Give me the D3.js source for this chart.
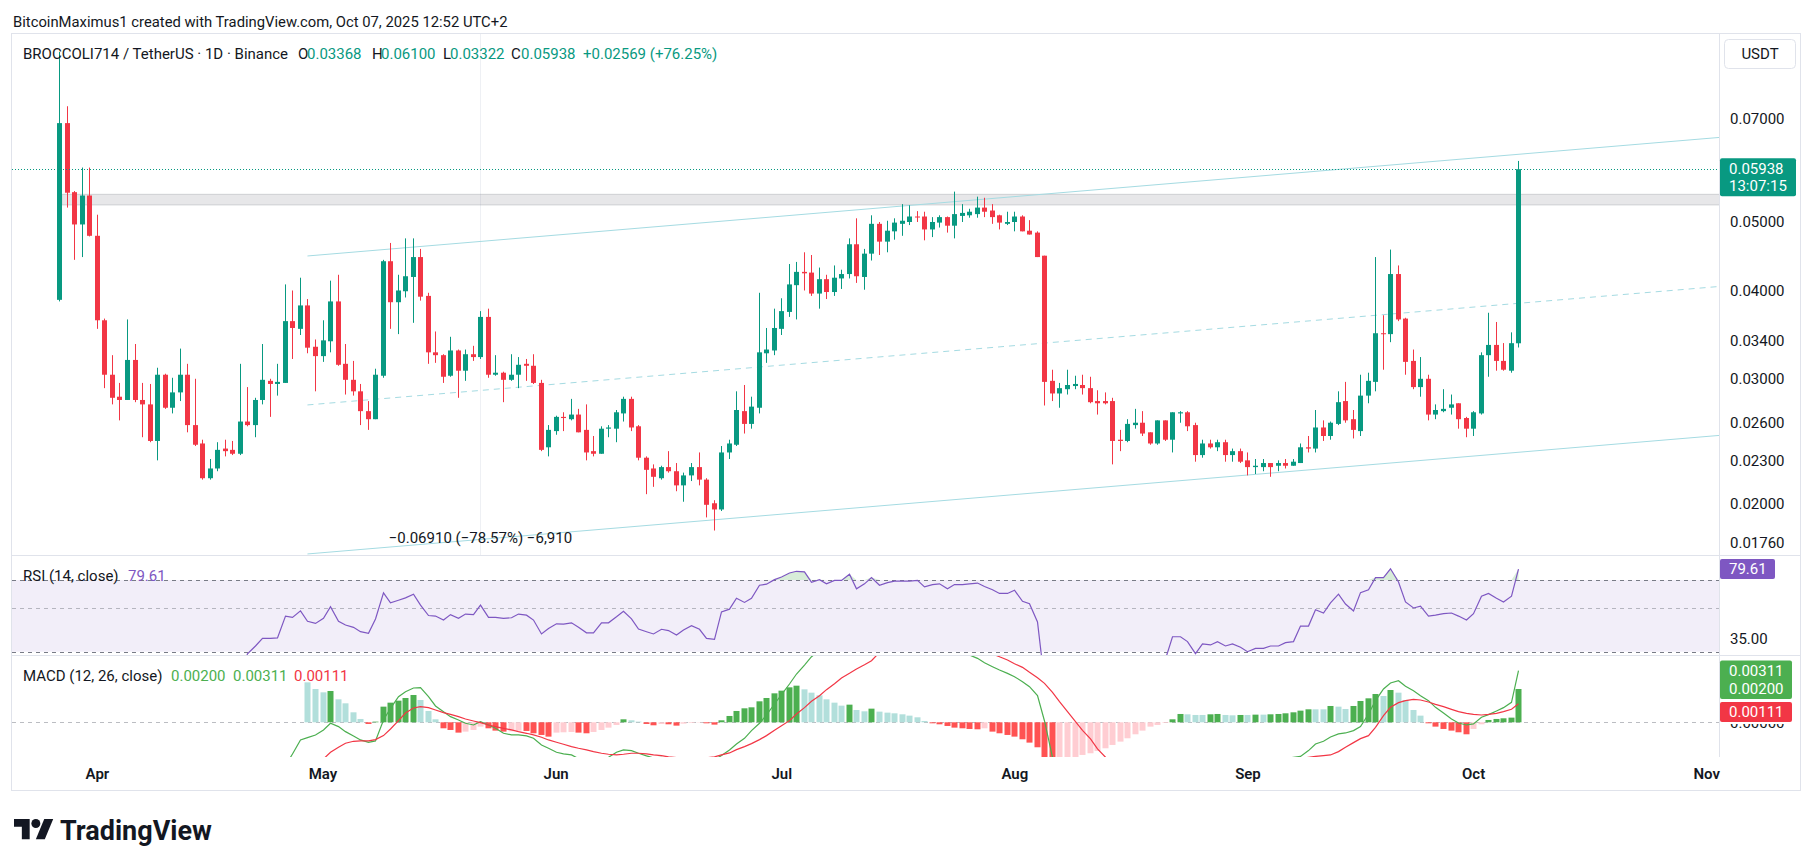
<!DOCTYPE html>
<meta charset="utf-8">
<script src="https://d3js.org/d3.v7.min.js"></script>
<style>
  body { margin: 0; background: #ffffff; }
  svg text { font-family: Roboto, "Noto Sans", "Liberation Sans", sans-serif; fill: #131722; }
</style>
<body></body>
<script>

// ---- values: BROCCOLI714 / USDT, 1D, Binance ----
var firstDay = Date.UTC(2025, 2, 27);   // first candle (27 Mar 2025)
var dayMs = 864e5;

var opens = [
  0.0388,0.0690,0.0551,0.0496,0.0545,0.0478,0.0363,0.0304,0.0283,0.0280,
  0.0319,0.0280,0.0276,0.0245,0.0304,0.0273,0.0287,0.0304,0.0258,0.0243,
  0.0217,0.0224,0.0239,0.0238,0.0235,0.0261,0.0258,0.0280,0.0298,0.0295,
  0.0296,0.0362,0.0353,0.0381,0.0333,0.0323,0.0339,0.0386,0.0315,0.0299,
  0.0288,0.0270,0.0263,0.0303,0.0440,0.0385,0.0399,0.0418,0.0446,0.0393,
  0.0327,0.0324,0.0303,0.0329,0.0308,0.0325,0.0322,0.0367,0.0304,0.0306,
  0.0299,0.0304,0.0315,0.0313,0.0296,0.0240,0.0253,0.0265,0.0263,0.0267,
  0.0254,0.0237,0.0235,0.0255,0.0255,0.0268,0.0281,0.0257,0.0232,0.0224,
  0.0217,0.0225,0.0222,0.0212,0.0219,0.0225,0.0216,0.0200,0.0196,0.0236,
  0.0242,0.0270,0.0259,0.0273,0.0326,0.0329,0.0353,0.0373,0.0407,0.0425,
  0.0424,0.0396,0.0415,0.0398,0.0416,0.0422,0.0465,0.0418,0.0451,0.0497,
  0.0469,0.0485,0.0497,0.0500,0.0509,0.0509,0.0488,0.0499,0.0508,0.0494,
  0.0510,0.0511,0.0513,0.0524,0.0519,0.0511,0.0497,0.0500,0.0509,0.0486,
  0.0483,0.0448,0.0298,0.0286,0.0290,0.0293,0.0294,0.0291,0.0279,0.0279,
  0.0279,0.0246,0.0245,0.0258,0.0260,0.0252,0.0243,0.0262,0.0246,0.0268,
  0.0269,0.0258,0.0234,0.0243,0.0240,0.0244,0.0234,0.0237,0.0230,0.0225,
  0.0225,0.0228,0.0226,0.0228,0.0226,0.0228,0.0240,0.0239,0.0256,0.0249,
  0.0259,0.0279,0.0263,0.0253,0.0284,0.0297,0.0348,0.0347,0.0422,0.0365,
  0.0318,0.0292,0.0300,0.0267,0.0270,0.0273,0.0277,0.0264,0.0255,0.0268,
  0.0324,0.0335,0.0318,0.0308,0.03368];

var highs = [
  0.0870,0.0729,0.0553,0.0597,0.0597,0.0512,0.0365,0.0324,0.0296,0.0364,
  0.0336,0.0296,0.0295,0.0311,0.0305,0.0301,0.0331,0.0315,0.0300,0.0246,
  0.0231,0.0244,0.0246,0.0245,0.0315,0.0292,0.0282,0.0336,0.0300,0.0315,
  0.0408,0.0400,0.0417,0.0389,0.0341,0.0363,0.0413,0.0421,0.0336,0.0318,
  0.0295,0.0279,0.0310,0.0442,0.0467,0.0421,0.0474,0.0474,0.0458,0.0397,
  0.0350,0.0325,0.0344,0.0330,0.0330,0.0334,0.0374,0.0377,0.0324,0.0307,
  0.0325,0.0322,0.0320,0.0325,0.0299,0.0258,0.0266,0.0269,0.0281,0.0272,
  0.0276,0.0249,0.0257,0.0258,0.0271,0.0283,0.0283,0.0258,0.0233,0.0227,
  0.0226,0.0237,0.0228,0.0221,0.0228,0.0236,0.0217,0.0202,0.0241,0.0246,
  0.0288,0.0294,0.0283,0.0397,0.0354,0.0377,0.0390,0.0436,0.0439,0.0453,
  0.0449,0.0431,0.0421,0.0434,0.0428,0.0474,0.0506,0.0458,0.0511,0.0500,
  0.0502,0.0506,0.0530,0.0528,0.0518,0.0517,0.0508,0.0511,0.0509,0.0552,
  0.0530,0.0522,0.0543,0.0541,0.0530,0.0512,0.0517,0.0517,0.0511,0.0503,
  0.0485,0.0448,0.0309,0.0296,0.0309,0.0303,0.0304,0.0302,0.0289,0.0287,
  0.0282,0.0254,0.0263,0.0272,0.0270,0.0252,0.0262,0.0262,0.0269,0.0270,
  0.0270,0.0260,0.0246,0.0246,0.0246,0.0246,0.0239,0.0239,0.0236,0.0231,
  0.0231,0.0228,0.0230,0.0231,0.0231,0.0243,0.0249,0.0271,0.0262,0.0261,
  0.0288,0.0297,0.0271,0.0304,0.0306,0.0446,0.0369,0.0457,0.0434,0.0366,
  0.0330,0.0322,0.0304,0.0276,0.0290,0.0285,0.0277,0.0265,0.0270,0.0327,
  0.0372,0.0361,0.0337,0.0349,0.0610];

var lows = [
  0.0386,0.0524,0.0442,0.0446,0.0477,0.0353,0.0291,0.0276,0.0262,0.0280,
  0.0278,0.0248,0.0244,0.0230,0.0272,0.0268,0.0279,0.0252,0.0241,0.0216,
  0.0216,0.0222,0.0233,0.0234,0.0234,0.0257,0.0248,0.0276,0.0265,0.0284,
  0.0296,0.0320,0.0346,0.0326,0.0288,0.0317,0.0327,0.0313,0.0285,0.0284,
  0.0258,0.0254,0.0263,0.0301,0.0353,0.0347,0.0391,0.0360,0.0387,0.0315,
  0.0316,0.0296,0.0302,0.0282,0.0298,0.0318,0.0320,0.0301,0.0303,0.0278,
  0.0298,0.0291,0.0298,0.0295,0.0237,0.0233,0.0250,0.0253,0.0262,0.0252,
  0.0230,0.0233,0.0235,0.0248,0.0244,0.0261,0.0253,0.0230,0.0206,0.0211,
  0.0216,0.0221,0.0208,0.0201,0.0215,0.0212,0.0191,0.0183,0.0195,0.0231,
  0.0241,0.0251,0.0255,0.0268,0.0316,0.0324,0.0346,0.0367,0.0364,0.0400,
  0.0393,0.0377,0.0389,0.0393,0.0402,0.0416,0.0410,0.0401,0.0441,0.0449,
  0.0453,0.0472,0.0478,0.0495,0.0500,0.0471,0.0476,0.0491,0.0483,0.0474,
  0.0500,0.0507,0.0507,0.0508,0.0497,0.0488,0.0495,0.0485,0.0485,0.0480,
  0.0446,0.0275,0.0279,0.0273,0.0285,0.0290,0.0285,0.0277,0.0267,0.0276,
  0.0227,0.0237,0.0244,0.0255,0.0249,0.0242,0.0242,0.0245,0.0236,0.0260,
  0.0253,0.0229,0.0232,0.0239,0.0237,0.0229,0.0229,0.0228,0.0219,0.0220,
  0.0222,0.0218,0.0222,0.0224,0.0226,0.0228,0.0236,0.0236,0.0245,0.0246,
  0.0258,0.0260,0.0247,0.0249,0.0277,0.0288,0.0309,0.0338,0.0362,0.0304,
  0.0290,0.0283,0.0262,0.0263,0.0269,0.0267,0.0255,0.0248,0.0249,0.0267,
  0.0302,0.0308,0.0308,0.0306,0.03322];

var closes = [
  0.0690,0.0550,0.0496,0.0545,0.0478,0.0363,0.0304,0.0282,0.0280,0.0319,
  0.0280,0.0276,0.0245,0.0304,0.0273,0.0287,0.0304,0.0258,0.0242,0.0217,
  0.0224,0.0238,0.0237,0.0235,0.0261,0.0258,0.0280,0.0299,0.0295,0.0297,
  0.0362,0.0354,0.0381,0.0332,0.0323,0.0340,0.0386,0.0314,0.0299,0.0288,
  0.0270,0.0263,0.0304,0.0440,0.0385,0.0400,0.0419,0.0446,0.0392,0.0327,
  0.0324,0.0302,0.0329,0.0308,0.0325,0.0322,0.0367,0.0304,0.0306,0.0299,
  0.0304,0.0314,0.0313,0.0296,0.0238,0.0254,0.0265,0.0264,0.0267,0.0252,
  0.0236,0.0235,0.0255,0.0256,0.0269,0.0281,0.0256,0.0232,0.0223,0.0218,
  0.0225,0.0222,0.0212,0.0219,0.0225,0.0216,0.0199,0.0196,0.0236,0.0243,
  0.0271,0.0259,0.0274,0.0327,0.0330,0.0354,0.0374,0.0408,0.0425,0.0423,
  0.0396,0.0415,0.0398,0.0417,0.0422,0.0465,0.0419,0.0451,0.0497,0.0469,
  0.0486,0.0499,0.0502,0.0509,0.0508,0.0488,0.0500,0.0508,0.0494,0.0513,
  0.0515,0.0517,0.0524,0.0517,0.0508,0.0499,0.0500,0.0509,0.0485,0.0480,
  0.0446,0.0297,0.0286,0.0291,0.0294,0.0295,0.0291,0.0278,0.0277,0.0277,
  0.0245,0.0245,0.0259,0.0260,0.0251,0.0243,0.0262,0.0246,0.0269,0.0269,
  0.0257,0.0234,0.0243,0.0240,0.0244,0.0234,0.0237,0.0229,0.0225,0.0226,
  0.0228,0.0225,0.0228,0.0226,0.0229,0.0240,0.0239,0.0256,0.0249,0.0260,
  0.0278,0.0262,0.0254,0.0284,0.0298,0.0348,0.0347,0.0422,0.0364,0.0317,
  0.0292,0.0300,0.0267,0.0271,0.0272,0.0276,0.0263,0.0255,0.0269,0.0324,
  0.0335,0.0318,0.0309,0.03369,0.05938];

// RSI (14, close), first value at candle index 24
var rsiStart = 24;
var rsiValues = [
  22,29.3,32.1,35.1,35.1,35.3,45.7,45.0,48.6,43.0,
  41.9,44.5,51.0,43.0,41.1,40.0,38.0,37.3,44.2,60.1,
  53.4,55.1,56.7,59.2,52.0,46.0,45.7,43.6,46.5,44.5,
  46.8,46.5,52.0,45.0,45.0,44.5,44.8,46.8,46.2,43.6,
  37.0,39.5,41.7,41.6,42.2,40.0,37.5,37.5,42.2,42.2,
  45.3,48.4,44.2,39.2,38.0,37.0,39.1,38.5,36.5,38.8,
  40.8,39.1,35.1,34.7,48.0,49.6,56.4,53.7,56.4,65.8,
  66.6,70.3,72.5,76.0,77.6,77.1,68.1,70.3,66.9,69.7,
  69.7,75.0,63.1,66.9,72.0,65.8,67.8,69.1,69.1,69.1,
  69.7,64.5,66.3,66.9,63.1,66.3,66.3,66.9,67.5,64.8,
  62.4,59.7,59.7,62.0,54.4,52.9,42.6,21.0,19.5,19.8,
  21.0,22.5,23.0,22.6,21.5,21.4,21.4,18.5,18.6,22.5,
  23.5,22.8,28.5,27.5,35.8,35.8,33.8,29.3,32.9,32.5,
  33.8,32.1,32.9,31.6,30.0,31.2,31.2,32.1,32.1,33.4,
  33.8,40.6,40.6,49.3,47.4,53.4,59.2,52.7,48.6,60.3,
  62.4,72.0,72.0,79.9,68.4,54.0,50.3,51.4,45.7,46.2,
  47.0,47.4,45.7,43.6,47.0,57.8,59.7,56.4,54.0,57.8,
  79.61];

// MACD (12, 26, close): MACD line from index 25, signal and histogram from index 33
var macdStart = 25;
var macdValues = [
  -0.0045,-0.0042,-0.0038,-0.0034,-0.0030,-0.0026,-0.0019,-0.00106,-0.00092,-0.00076,
  -0.00046,-0.00006,-0.00026,-0.00056,-0.00082,-0.00106,-0.00120,-0.00112,0.00014,0.00084,
  0.00154,0.00184,0.00206,0.00208,0.00154,0.00098,0.00064,0.00034,0.00014,-0.00006,
  -0.00016,0.00004,-0.00016,-0.00036,-0.00066,-0.00076,-0.00076,-0.00082,-0.00096,-0.00136,
  -0.00156,-0.00180,-0.00190,-0.00196,-0.00218,-0.00232,-0.00234,-0.00232,-0.00210,-0.00180,
  -0.00166,-0.00170,-0.00186,-0.00202,-0.00214,-0.00210,-0.00222,-0.00235,-0.00228,-0.00224,
  -0.00222,-0.00221,-0.00224,-0.00200,-0.00166,-0.00130,-0.00096,-0.00050,-0.00006,0.00044,
  0.00110,0.00166,0.00230,0.00290,0.00344,0.00394,0.00430,0.00460,0.00490,0.00520,
  0.00560,0.00570,0.00580,0.00610,0.00620,0.00620,0.00610,0.00600,0.00580,0.00560,
  0.00530,0.00500,0.00480,0.00460,0.00440,0.00420,0.00404,0.00384,0.00358,0.00334,
  0.00314,0.00294,0.00274,0.00244,0.00214,0.00160,0.00008,-0.00210,-0.00280,-0.00340,
  -0.00400,-0.00440,-0.00470,-0.00480,-0.00490,-0.00490,-0.00480,-0.00470,-0.00460,-0.00440,
  -0.00420,-0.00400,-0.00380,-0.00360,-0.00340,-0.00330,-0.00320,-0.00310,-0.00300,-0.00290,
  -0.00280,-0.00270,-0.00260,-0.00250,-0.00250,-0.00240,-0.00230,-0.00230,-0.00220,-0.00210,
  -0.00205,-0.00170,-0.00130,-0.00114,-0.00088,-0.00070,-0.00064,-0.00050,-0.00026,0.00050,
  0.00130,0.00200,0.00236,0.00250,0.00216,0.00190,0.00160,0.00130,0.00090,0.00056,
  0.00020,-0.00004,-0.00016,-0.00010,0.00030,0.00046,0.00068,0.00088,0.00120,0.00311];

var signalStart = 33;
var signalValues = [
  -0.0032,-0.0027,-0.0022,-0.00180,-0.00150,-0.00126,-0.00114,-0.00112,-0.00112,-0.00104,
  -0.00080,-0.00040,0.00010,0.00056,0.00086,0.00094,0.00088,0.00074,0.00058,0.00048,
  0.00034,0.00020,0.00008,-0.00002,-0.00016,-0.00026,-0.00036,-0.00046,-0.00056,-0.00066,
  -0.00076,-0.00090,-0.00106,-0.00120,-0.00132,-0.00146,-0.00156,-0.00166,-0.00176,-0.00186,
  -0.00192,-0.00196,-0.00192,-0.00186,-0.00186,-0.00190,-0.00196,-0.00200,-0.00208,-0.00212,
  -0.00215,-0.00216,-0.00215,-0.00213,-0.00208,-0.00196,-0.00184,-0.00164,-0.00146,-0.00128,
  -0.00104,-0.00080,-0.00048,-0.00020,0.00010,0.00050,0.00088,0.00126,0.00160,0.00196,
  0.00232,0.00266,0.00294,0.00320,0.00346,0.00370,0.00420,0.00450,0.00470,0.00490,
  0.00510,0.00520,0.00530,0.00530,0.00520,0.00510,0.00500,0.00480,0.00460,0.00440,
  0.00420,0.00410,0.00394,0.00374,0.00352,0.00330,0.00300,0.00268,0.00234,0.00180,
  0.00124,0.00064,0.00004,-0.00048,-0.00100,-0.00160,-0.00210,-0.00260,-0.00310,-0.00350,
  -0.00380,-0.00400,-0.00410,-0.00410,-0.00400,-0.00390,-0.00380,-0.00370,-0.00360,-0.00350,
  -0.00340,-0.00330,-0.00320,-0.00310,-0.00300,-0.00290,-0.00280,-0.00270,-0.00260,-0.00250,
  -0.00240,-0.00230,-0.00220,-0.00210,-0.00205,-0.00200,-0.00196,-0.00176,-0.00150,-0.00122,
  -0.00098,-0.00080,-0.00030,0.00040,0.00090,0.00118,0.00130,0.00138,0.00134,0.00122,
  0.00108,0.00094,0.00078,0.00064,0.00054,0.00048,0.00044,0.00048,0.00054,0.00064,
  0.00078,0.00111];

var histValues = [
  0.00240,0.00200,0.00180,0.00188,0.00138,0.00114,0.00060,0.00020,-0.00010,0.00004,
  0.00094,0.00118,0.00130,0.00146,0.00164,0.00134,0.00068,0.00018,-0.00036,-0.00046,
  -0.00062,-0.00056,-0.00046,-0.00026,-0.00036,-0.00050,-0.00056,-0.00054,-0.00050,-0.00052,
  -0.00066,-0.00076,-0.00086,-0.00062,-0.00060,-0.00058,-0.00062,-0.00066,-0.00058,-0.00046,
  -0.00032,-0.00016,0.00018,0.00012,0.00004,-0.00010,-0.00018,-0.00010,-0.00012,-0.00020,
  -0.00008,-0.00004,-0.00002,-0.00006,-0.00014,0.00012,0.00038,0.00068,0.00084,0.00090,
  0.00126,0.00146,0.00174,0.00190,0.00210,0.00220,0.00198,0.00178,0.00162,0.00138,
  0.00118,0.00100,0.00106,0.00074,0.00066,0.00082,0.00064,0.00058,0.00054,0.00048,
  0.00040,0.00030,0.00008,-0.00006,-0.00012,-0.00022,-0.00032,-0.00036,-0.00040,-0.00042,
  -0.00036,-0.00056,-0.00066,-0.00076,-0.00086,-0.00102,-0.00122,-0.00150,-0.00230,-0.00400,
  -0.00350,-0.00300,-0.00240,-0.00196,-0.00186,-0.00172,-0.00156,-0.00136,-0.00116,-0.00096,
  -0.00072,-0.00050,-0.00026,-0.00016,-0.00004,0.00018,0.00050,0.00048,0.00044,0.00044,
  0.00048,0.00050,0.00044,0.00042,0.00044,0.00044,0.00046,0.00046,0.00048,0.00050,
  0.00054,0.00060,0.00070,0.00078,0.00078,0.00078,0.00098,0.00094,0.00080,0.00098,
  0.00128,0.00144,0.00170,0.00158,0.00194,0.00178,0.00134,0.00074,0.00040,-0.00006,
  -0.00026,-0.00040,-0.00050,-0.00060,-0.00072,-0.00040,-0.00012,0.00014,0.00020,0.00024,
  0.00028,0.00200];

// axis ticks
var priceTicks = [0.07, 0.05, 0.04, 0.034, 0.03, 0.026, 0.023, 0.02, 0.0176];
var rsiLevels = [70, 50, 30];
var rsiTicks = [35];
var macdTicks = [0];

// drawings on the price pane
var channelDates = [Date.UTC(2025, 3, 29), Date.UTC(2025, 10, 3)];
var channelUpper = [0.04476, 0.06589];
var channelMiddle = [0.02755, 0.04055];
var channelLower = [0.016955, 0.02496];
var zoneDates = [Date.UTC(2025, 2, 27, 8), Date.UTC(2025, 10, 5)];
var zonePrices = [0.05285, 0.05472];
var rulerDate = Date.UTC(2025, 4, 22);
var rulerText = "\u22120.06910 (\u221278.57%) \u22126,910";

var lastPrice = 0.05938;
var lastCountdown = "13:07:15";
var lastRsi = 79.61;
var lastMacd = 0.00311, lastSignal = 0.00111, lastHist = 0.00200;

// ---- colours ----
var upColor = "#089981", downColor = "#f23645";
var rsiColor = "#7e57c2";
var macdColor = "#4caf50", signalColor = "#f23645";
var channelColor = "#a5dbe2";
var borderColor = "#e0e3eb";

// ---- layout ----
var W = 1814, H = 866;
var L = 12, R = 1719;                      // pane left / right (price axis starts at R)
var mainTop = 34, mainBottom = 555, rsiBottom = 655, macdBottom = 757;
var fs = "15px";                           // chart text size

var svg = d3.select("body").append("svg")
    .attr("width", W)
    .attr("height", H)
    .style("display", "block");

svg.append("rect").attr("width", W).attr("height", H).attr("fill", "#ffffff");

// scales
var x = d3.scaleUtc()
    .domain([new Date(firstDay), new Date(Date.UTC(2025, 10, 1))])
    .range([59.3, 1706.2]);

var y = d3.scaleLog()
    .domain([0.0176, 0.07])
    .range([542.5, 118.7]);

var rsiY = d3.scaleLog()
    .domain([30, 70])
    .range([651.7, 580]);

var macdY = d3.scaleLinear()
    .domain([0, 0.002])
    .range([722.3, 689]);

function dayDate(i) { return new Date(firstDay + i * dayMs); }
function px(d) { return Math.round(x(d)) + 0.5; }

var candles = opens.map(function(o, i) {
    return {date: dayDate(i), o: o, h: highs[i], l: lows[i], c: closes[i]};
});
var rsiData = rsiValues.map(function(v, k) { return {date: dayDate(rsiStart + k), v: v}; });
var macdData = macdValues.map(function(v, k) { return {date: dayDate(macdStart + k), v: v}; });
var signalData = signalValues.map(function(v, k) { return {date: dayDate(signalStart + k), v: v}; });
var histData = histValues.map(function(v, k) {
    var prev = k > 0 ? histValues[k - 1] : null;
    var color;
    if (v >= 0) color = (prev !== null && v > prev) ? "#4caf50" : "#b2dfdb";
    else color = (prev !== null && v < prev) ? "#ff5252" : "#ffcdd2";
    return {date: dayDate(signalStart + k), v: v, color: color};
});

// header
svg.append("text")
    .attr("x", 13).attr("y", 22)
    .attr("dominant-baseline", "central")
    .style("font-size", "14.8px")
    .text("BitcoinMaximus1 created with TradingView.com, Oct 07, 2025 12:52 UTC+2");

// clip paths
var defs = svg.append("defs");
function clip(id, y0, y1) {
    defs.append("clipPath").attr("id", id)
        .append("rect").attr("x", L).attr("y", y0).attr("width", R - L).attr("height", y1 - y0);
}
clip("clipMain", mainTop, mainBottom);
clip("clipRsi", mainBottom + 1, rsiBottom);
clip("clipMacd", rsiBottom + 1, macdBottom);

// ---------- price pane ----------
var main = svg.append("g").attr("clip-path", "url(#clipMain)");

// ruler drawing: vertical line
main.append("line")
    .attr("x1", px(new Date(rulerDate))).attr("x2", px(new Date(rulerDate)))
    .attr("y1", mainTop).attr("y2", mainBottom)
    .attr("stroke", "#eef0f4").attr("stroke-width", 1);

// resistance zone
main.append("rect")
    .attr("x", x(new Date(zoneDates[0])))
    .attr("y", y(zonePrices[1]))
    .attr("width", x(new Date(zoneDates[1])) - x(new Date(zoneDates[0])))
    .attr("height", y(zonePrices[0]) - y(zonePrices[1]))
    .attr("fill", "rgba(120,123,134,0.18)")
    .attr("stroke", "rgba(120,123,134,0.28)")
    .attr("stroke-width", 1);

// parallel channel
[[channelUpper, null], [channelMiddle, "6,5"], [channelLower, null]].forEach(function(c) {
    main.append("line")
        .attr("x1", x(new Date(channelDates[0]))).attr("y1", y(c[0][0]))
        .attr("x2", x(new Date(channelDates[1]))).attr("y2", y(c[0][1]))
        .attr("stroke", channelColor)
        .attr("stroke-width", 1)
        .attr("stroke-dasharray", c[1]);
});

// candles
main.selectAll(".wick")
    .data(candles)
    .enter()
    .append("line")
    .attr("class", "wick")
    .attr("x1", function(d) { return px(d.date); })
    .attr("x2", function(d) { return px(d.date); })
    .attr("y1", function(d) { return y(d.h); })
    .attr("y2", function(d) { return y(d.l); })
    .attr("stroke", function(d) { return d.c >= d.o ? upColor : downColor; })
    .attr("stroke-width", 1);

main.selectAll(".body")
    .data(candles)
    .enter()
    .append("rect")
    .attr("class", "body")
    .attr("x", function(d) { return Math.round(x(d.date)) - 2; })
    .attr("width", 5)
    .attr("y", function(d) { return y(Math.max(d.o, d.c)); })
    .attr("height", function(d) { return Math.max(1, Math.abs(y(d.o) - y(d.c))); })
    .attr("fill", function(d) { return d.c >= d.o ? upColor : downColor; });

// last price line
main.append("line")
    .attr("x1", L).attr("x2", R)
    .attr("y1", Math.round(y(lastPrice)) + 0.5).attr("y2", Math.round(y(lastPrice)) + 0.5)
    .attr("stroke", upColor).attr("stroke-width", 1).attr("stroke-dasharray", "1,2");

// ruler label
svg.append("text")
    .attr("x", x(new Date(rulerDate))).attr("y", 538)
    .attr("text-anchor", "middle")
    .attr("dominant-baseline", "central")
    .style("font-size", fs)
    .text(rulerText);

// legend
var legend = svg.append("text").attr("y", 54).attr("dominant-baseline", "central").style("font-size", fs);
[["BROCCOLI714 / TetherUS \u00b7 1D \u00b7 Binance", 23, "#131722"],
 ["O", 298, "#131722"], ["0.03368", 307, upColor],
 ["H", 372, "#131722"], ["0.06100", 381, upColor],
 ["L", 443, "#131722"], ["0.03322", 450, upColor],
 ["C", 511, "#131722"], ["0.05938", 521, upColor],
 ["+0.02569 (+76.25%)", 583, upColor]].forEach(function(p) {
    legend.append("tspan").attr("x", p[1]).style("fill", p[2]).text(p[0]);
});

// ---------- RSI pane ----------
var rsiG = svg.append("g").attr("clip-path", "url(#clipRsi)");

rsiG.append("rect")
    .attr("x", L).attr("width", R - L)
    .attr("y", rsiY(70)).attr("height", rsiY(30) - rsiY(70))
    .attr("fill", "rgba(126,87,194,0.1)");

rsiLevels.forEach(function(v) {
    rsiG.append("line")
        .attr("x1", L).attr("x2", R)
        .attr("y1", Math.round(rsiY(v)) + 0.5).attr("y2", Math.round(rsiY(v)) + 0.5)
        .attr("stroke", v === 50 ? "rgba(120,123,134,0.5)" : "#787b86")
        .attr("stroke-dasharray", "4,4");
});

rsiG.append("path")
    .datum(rsiData)
    .attr("fill", "rgba(76,175,80,0.22)")
    .attr("d", d3.area()
        .x(function(d) { return px(d.date); })
        .y0(rsiY(70))
        .y1(function(d) { return rsiY(Math.max(d.v, 70)); }));

rsiG.append("path")
    .datum(rsiData)
    .attr("fill", "none")
    .attr("stroke", rsiColor)
    .attr("stroke-width", 1.2)
    .attr("d", d3.line()
        .x(function(d) { return px(d.date); })
        .y(function(d) { return rsiY(d.v); }));

var rsiLegend = svg.append("text").attr("y", 576).attr("dominant-baseline", "central").style("font-size", fs);
rsiLegend.append("tspan").attr("x", 23).text("RSI (14, close)");
rsiLegend.append("tspan").attr("x", 128).style("fill", rsiColor).text(d3.format(".2f")(lastRsi));

// ---------- MACD pane ----------
var macdG = svg.append("g").attr("clip-path", "url(#clipMacd)");

macdG.append("line")
    .attr("x1", L).attr("x2", R)
    .attr("y1", Math.round(macdY(0)) + 0.5).attr("y2", Math.round(macdY(0)) + 0.5)
    .attr("stroke", "rgba(120,123,134,0.5)")
    .attr("stroke-dasharray", "4,4");

macdG.selectAll(".hist")
    .data(histData)
    .enter()
    .append("rect")
    .attr("class", "hist")
    .attr("x", function(d) { return Math.round(x(d.date)) - 2.5; })
    .attr("width", 6)
    .attr("y", function(d) { return Math.min(macdY(d.v), macdY(0)); })
    .attr("height", function(d) { return Math.abs(macdY(d.v) - macdY(0)); })
    .attr("fill", function(d) { return d.color; });

var macdLine = d3.line()
    .x(function(d) { return px(d.date); })
    .y(function(d) { return macdY(d.v); });

macdG.append("path").datum(macdData)
    .attr("fill", "none").attr("stroke", macdColor).attr("stroke-width", 1.2)
    .attr("d", macdLine);
macdG.append("path").datum(signalData)
    .attr("fill", "none").attr("stroke", signalColor).attr("stroke-width", 1.2)
    .attr("d", macdLine);

var macdLegend = svg.append("text").attr("y", 676).attr("dominant-baseline", "central").style("font-size", fs);
macdLegend.append("tspan").attr("x", 23).text("MACD (12, 26, close)");
macdLegend.append("tspan").attr("x", 171).style("fill", macdColor).text(d3.format(".5f")(lastHist));
macdLegend.append("tspan").attr("x", 233).style("fill", macdColor).text(d3.format(".5f")(lastMacd));
macdLegend.append("tspan").attr("x", 294).style("fill", signalColor).text(d3.format(".5f")(lastSignal));

// ---------- frame and separators ----------
svg.append("rect")
    .attr("x", 11.5).attr("y", 33.5).attr("width", 1789).attr("height", 757)
    .attr("fill", "none").attr("stroke", borderColor);
[mainBottom, rsiBottom].forEach(function(v) {
    svg.append("line").attr("x1", 12).attr("x2", 1800).attr("y1", v + 0.5).attr("y2", v + 0.5)
        .attr("stroke", borderColor);
});
svg.append("line").attr("x1", R + 0.5).attr("x2", R + 0.5).attr("y1", mainTop).attr("y2", macdBottom)
    .attr("stroke", borderColor);

// ---------- axes ----------
function styleAxis(g) {
    g.attr("font-family", null).attr("font-size", null);
    g.select(".domain").remove();
    g.selectAll("text").style("font-size", fs).style("fill", "#131722");
}

svg.append("g")
    .attr("transform", "translate(" + R + ",0)")
    .call(d3.axisRight(y).tickValues(priceTicks).tickFormat(d3.format(".5f")).tickSize(0).tickPadding(11))
    .call(styleAxis);

svg.append("g")
    .attr("transform", "translate(" + R + ",0)")
    .call(d3.axisRight(rsiY).tickValues(rsiTicks).tickFormat(d3.format(".2f")).tickSize(0).tickPadding(11))
    .call(styleAxis);

// zero tick of the MACD pane: only its lower part shows below the signal label
defs.append("clipPath").attr("id", "clipZero")
    .append("rect").attr("x", 0).attr("y", 724).attr("width", 90).attr("height", 20);
svg.append("g")
    .attr("transform", "translate(" + R + ",0)")
    .attr("clip-path", "url(#clipZero)")
    .call(d3.axisRight(macdY).tickValues(macdTicks).tickFormat(d3.format(".5f")).tickSize(0).tickPadding(11))
    .call(styleAxis);

var monthTicks = d3.utcMonth.range(new Date(Date.UTC(2025, 3, 1)), new Date(Date.UTC(2025, 10, 2)));
svg.append("g")
    .attr("transform", "translate(0,774)")
    .call(d3.axisBottom(x).tickValues(monthTicks).tickFormat(d3.utcFormat("%b")).tickSize(0))
    .call(function(g) {
        g.attr("font-family", null).attr("font-size", null);
        g.select(".domain").remove();
        g.selectAll("text").attr("y", 0).attr("dy", "0.35em")
            .style("font-size", fs).style("font-weight", "600").style("fill", "#131722");
    });

// currency button
svg.append("rect")
    .attr("x", 1724.5).attr("y", 39.5).attr("width", 71).attr("height", 29).attr("rx", 4)
    .attr("fill", "#ffffff").attr("stroke", borderColor);
svg.append("text")
    .attr("x", 1760).attr("y", 54).attr("text-anchor", "middle").attr("dominant-baseline", "central")
    .style("font-size", fs).text("USDT");

// axis value labels
function axisLabel(yTop, h, w, fill, lines) {
    svg.append("rect").attr("x", R + 1).attr("y", yTop).attr("width", w).attr("height", h)
        .attr("rx", 2).attr("fill", fill);
    lines.forEach(function(l) {
        svg.append("text").attr("x", R + 10).attr("y", l[1]).attr("dominant-baseline", "central")
            .style("font-size", fs).style("fill", "#ffffff").text(l[0]);
    });
}
var ly = y(lastPrice);
axisLabel(ly - 11, 38, 76, upColor, [[d3.format(".5f")(lastPrice), ly], [lastCountdown, ly + 17]]);

var ry = rsiY(lastRsi);
axisLabel(ry - 10, 20, 55, rsiColor, [[d3.format(".2f")(lastRsi), ry]]);

var m1 = macdY(lastMacd), m2 = macdY(lastHist);
axisLabel(m1 - 10, m2 - m1 + 20, 72, macdColor,
    [[d3.format(".5f")(lastMacd), m1], [d3.format(".5f")(lastHist), m2]]);
var sTop = m2 + 13;
axisLabel(sTop, 20, 72, signalColor, [[d3.format(".5f")(lastSignal), sTop + 10]]);

// ---------- TradingView mark ----------
var logo = svg.append("g").attr("transform", "translate(14,819) scale(1.12)");
logo.append("path").attr("d", "M14 18H7V7H0V0h14v18z").attr("fill", "#131722");
logo.append("circle").attr("cx", 19.5).attr("cy", 4).attr("r", 4).attr("fill", "#131722");
logo.append("path").attr("d", "M27.5 18h-8L27 0h8L27.5 18z").attr("fill", "#131722");
svg.append("text")
    .attr("x", 60).attr("y", 831)
    .attr("dominant-baseline", "central")
    .style("font-size", "27px").style("font-weight", "700")
    .text("TradingView");

</script>
